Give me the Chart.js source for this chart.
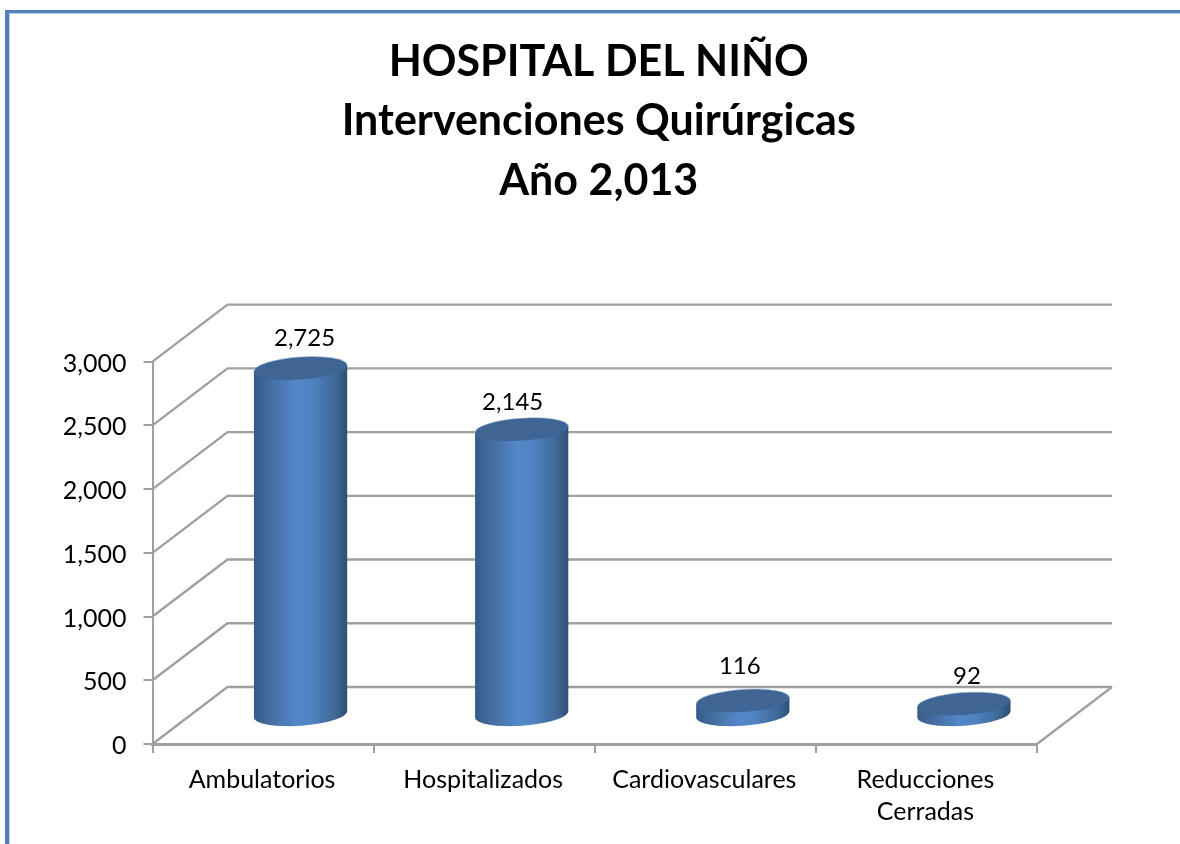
<!DOCTYPE html>
<html><head><meta charset="utf-8">
<style>
html,body{margin:0;padding:0;background:#fff;width:1180px;height:844px;overflow:hidden}
#wrap{position:absolute;left:0;top:0;width:1180px;height:844px}
#frame{position:absolute;left:5px;top:10px;right:0;bottom:0;border-left:4px solid #4f81bd;border-top:3px solid #4f81bd;pointer-events:none;box-shadow:inset 1px 1px 0 #b9cde5}
</style>
<script src="https://cdn.jsdelivr.net/npm/chart.js@4"></script>
</head><body>
<div id="wrap"><canvas id="c" width="1180" height="844"></canvas><div id="frame"></div></div>
<script>
const categories=[["Ambulatorios"],["Hospitalizados"],["Cardiovasculares"],["Reducciones","Cerradas"]];
const seriesName="Intervenciones";
const values=[2725,2245,116,92];
const valueLabels=["2,725","2,145","116","92"];
const titleLines=["HOSPITAL DEL NIÑO","Intervenciones Quirúrgicas","Año 2,013"];
const FONT="Lato, Carlito, Calibri, sans-serif";
const DX=75,DY=-57,GRID="#a0a0a0";
const labelNudge=[[4,-30],[-9,-27],[-3,-34],[3,-28]];
const fmt=v=>v.toLocaleString("en-US");

const wall3d={id:"wall3d",
 afterLayout(ch){ch.titleBlock.left+=4;ch.titleBlock.right+=4;},
 beforeDraw(ch){
  ch.scales.y.getLabelItems().forEach(it=>{it.options.translation[0]-=1;it.options.translation[1]+=2;});
  ch.scales.x.getLabelItems().forEach(it=>{it.options.translation[0]-=1;it.options.translation[1]+=1;});
 },
 beforeDatasetsDraw(ch){
  const c=ch.ctx,y=ch.scales.y,a=ch.chartArea;
  c.save();c.strokeStyle=GRID;c.lineWidth=2.4;
  y.ticks.forEach(t=>{
   const p=y.getPixelForValue(t.value);
   c.beginPath();c.moveTo(a.left,p);c.lineTo(a.left+DX,p+DY);c.lineTo(a.right+DX,p+DY);c.stroke();
  });
  const b=y.getPixelForValue(0);
  c.beginPath();c.moveTo(a.right,b);c.lineTo(a.right+DX,b+DY);c.stroke();
  c.restore();
 },
 afterDatasetsDraw(ch){
  const c=ch.ctx,meta=ch.getDatasetMeta(0);
  const rot=-4*Math.PI/180,ry=11.2;
  meta.data.forEach((el,i)=>{
   const cx=el.x+DX/2,rx=el.width/2+0.3,top=el.y+DY/2,bot=el.base+DY/2;
   const sx=rx*Math.cos(rot),sy=rx*Math.sin(rot);
   const g=c.createLinearGradient(cx-rx,0,cx+rx,0);
   g.addColorStop(0,"#355b86");g.addColorStop(.14,"#42699b");g.addColorStop(.45,"#5387c8");
   g.addColorStop(.62,"#4f83c2");g.addColorStop(.88,"#3f6794");g.addColorStop(1,"#2f4e75");
   c.save();
   c.beginPath();
   c.moveTo(cx-sx,top-sy);
   c.lineTo(cx-sx,bot-sy);
   c.ellipse(cx,bot,rx,ry,rot,Math.PI,0,true);
   c.lineTo(cx+sx,top+sy);
   c.closePath();
   c.fillStyle=g;c.fill();
   c.beginPath();c.ellipse(cx,top,rx,ry,rot,0,2*Math.PI);
   c.fillStyle="#3e6593";c.fill();
   c.strokeStyle="rgba(150,180,215,.55)";c.lineWidth=1;
   c.beginPath();c.ellipse(cx,top,rx,ry,rot,Math.PI,2*Math.PI);c.stroke();
   c.fillStyle="#000";c.font="24px "+FONT;c.textAlign="center";c.textBaseline="middle";
   c.fillText(valueLabels[i],cx+labelNudge[i][0],top+labelNudge[i][1]);
   c.restore();
  });
 }};

new Chart(document.getElementById("c"),{
 type:"bar",
 data:{labels:categories,datasets:[{label:seriesName,data:values,backgroundColor:"rgba(0,0,0,0)",categoryPercentage:1,barPercentage:.42}]},
 plugins:[wall3d],
 options:{responsive:false,animation:false,
  layout:{padding:{left:0,right:143,top:32,bottom:0}},
  plugins:{legend:{display:false},tooltip:{enabled:false},
   title:{display:true,fullSize:false,text:titleLines,color:"#000",font:{family:FONT,size:43,weight:"bold",lineHeight:1.385},padding:{top:0,bottom:151}}},
  scales:{
   x:{afterFit(s){s.height=100;},offset:true,
     grid:{display:true,drawOnChartArea:false,drawTicks:true,tickLength:9,color:GRID,offset:true,lineWidth:2},
     border:{color:GRID,width:3},
     ticks:{color:"#000",font:{family:FONT,size:25,lineHeight:1.28},padding:10,maxRotation:0,autoSkip:false}},
   y:{min:0,max:3000,afterFit(s){s.width=152.5;},
     grid:{display:true,drawOnChartArea:false,drawTicks:true,tickLength:9,color:GRID,lineWidth:2},
     border:{color:GRID,width:2},
     ticks:{stepSize:500,color:"#000",font:{family:FONT,size:25},padding:16,callback:v=>fmt(v)}}
  }}
});
</script></body></html>
